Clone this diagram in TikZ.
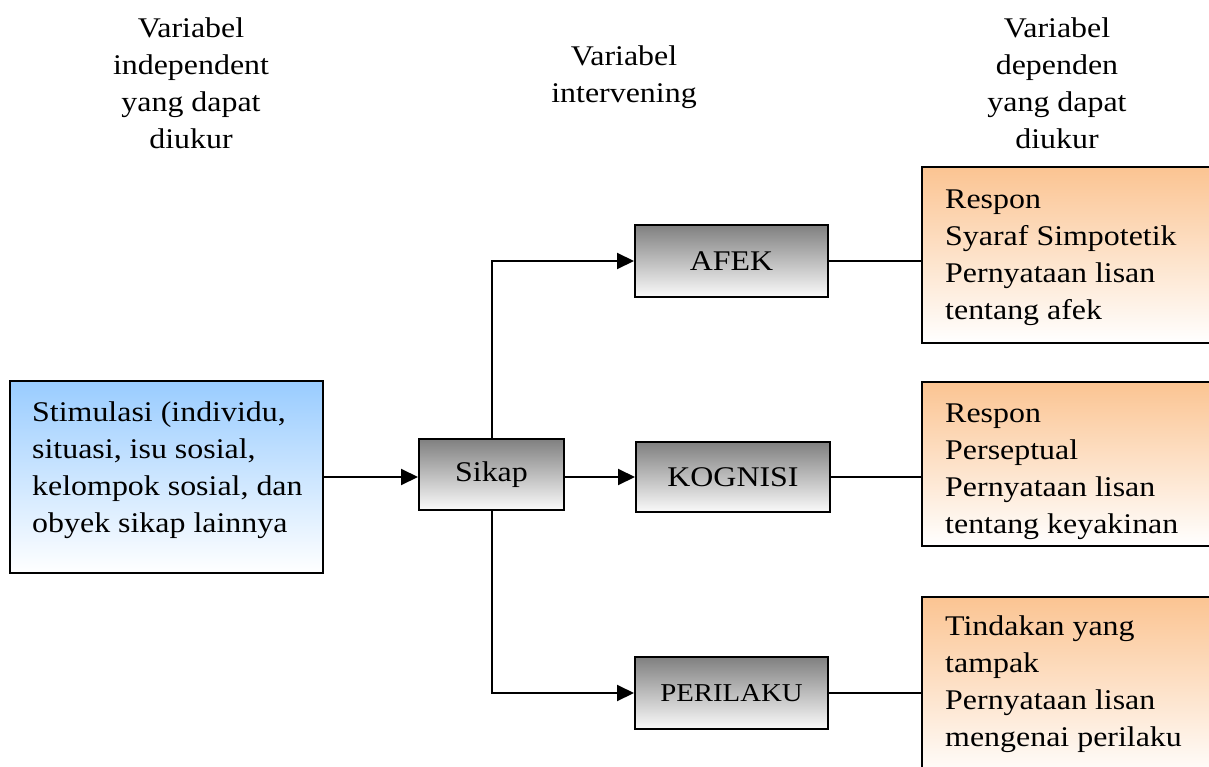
\documentclass[tikz,border=0pt]{standalone}
\usepackage{fontspec}
\setmainfont{Liberation Serif}[FakeStretch=1.12]
\usetikzlibrary{arrows.meta}
\definecolor{bluetop}{RGB}{153,204,255}
\definecolor{orangetop}{RGB}{251,196,146}
\definecolor{greytop}{RGB}{128,128,128}
\definecolor{greybot}{RGB}{250,250,250}
\newcommand{\bodyfont}{\fontsize{28.5}{37}\selectfont}
\newcommand{\fstrut}{\rule{0pt}{24pt}}
\tikzset{
  frame/.style={draw=black, line width=2pt, inner sep=0pt},
  bluebox/.style={frame, top color=bluetop, bottom color=white},
  orangebox/.style={frame, top color=orangetop, bottom color=white},
  greybox/.style={frame, top color=greytop, bottom color=greybot, font=\bodyfont},
  txt/.style={inner sep=0pt, font=\bodyfont},
  arr/.style={line width=2pt, -{Triangle[length=17pt,width=16pt]}},
  ln/.style={line width=1.6pt}
}
\begin{document}
\begin{tikzpicture}[x=1pt,y=-1pt]
\useasboundingbox (0,0) rectangle (1209,767);
% headers
\node[txt, anchor=north, align=center] (h1) at (191,13) {\fstrut Variabel\\independent\\yang dapat\\diukur};
\node[txt, anchor=north, align=center] (h2) at (624,41) {\fstrut Variabel\\intervening};
\node[txt, anchor=north, align=center] (h3) at (1057,13) {\fstrut Variabel\\dependen\\yang dapat\\diukur};
% left box
\node[bluebox, minimum width=313pt, minimum height=192pt] (stim) at (166.5,477) {};
\node[txt, anchor=north west, align=left] (stimt) at (32,397) {\fstrut Stimulasi (individu,\\situasi, isu sosial,\\kelompok sosial, dan\\obyek sikap lainnya};
% middle
\node[greybox, minimum width=145pt, minimum height=71pt] (sikap) at (491.5,474.5) {Sikap};
\node[greybox, minimum width=193pt, minimum height=72pt] (afek) at (731.5,261) {AFEK};
\node[greybox, minimum width=194pt, minimum height=70pt] (kog) at (733,477) {KOGNISI};
\node[greybox, minimum width=193pt, minimum height=72pt, font=\fontsize{25.7}{30}\selectfont] (peri) at (731.5,693) {PERILAKU};
% right boxes
\node[orangebox, minimum width=293pt, minimum height=176pt] (r1) at (1068.5,255) {};
\node[orangebox, minimum width=293pt, minimum height=164pt] (r2) at (1068.5,464) {};
\node[orangebox, minimum width=293pt, minimum height=183pt] (r3) at (1068.5,688.5) {};
\node[txt, anchor=north west, align=left] (r1t) at (945,184) {\fstrut Respon\\Syaraf Simpotetik\\Pernyataan lisan\\tentang afek};
\node[txt, anchor=north west, align=left] (r2t) at (945,398) {\fstrut Respon\\Perseptual\\Pernyataan lisan\\tentang keyakinan};
\node[txt, anchor=north west, align=left] (r3t) at (945,611) {\fstrut Tindakan yang\\tampak\\Pernyataan lisan\\mengenai perilaku};
% connectors
\draw[arr] (stim.east) -- (stim.east -| sikap.west);
\draw[arr] (sikap.east |- kog.west) -- (kog.west);
\draw[arr] (sikap.north) |- (afek.west);
\draw[arr] (sikap.south) |- (peri.west);
\draw[ln] (afek.east) -- (afek.east -| r1.west);
\draw[ln] (kog.east) -- (kog.east -| r2.west);
\draw[ln] (peri.east) -- (peri.east -| r3.west);
\end{tikzpicture}
\end{document}
